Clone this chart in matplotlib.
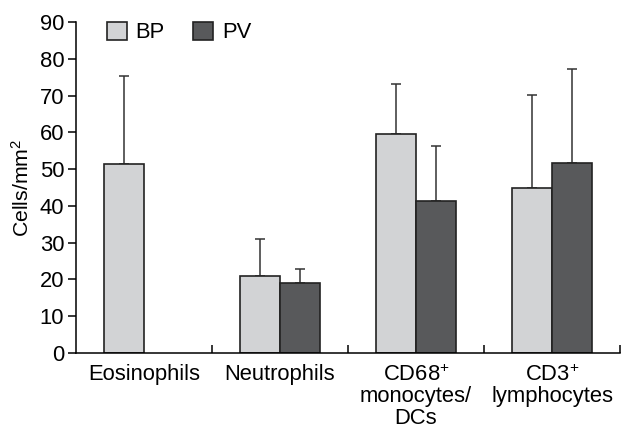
import numpy as np
import matplotlib
matplotlib.use('Agg')
import matplotlib.pyplot as plt
from matplotlib.ticker import MultipleLocator, FixedLocator

plt.rcParams['font.family'] = ['Liberation Sans', 'DejaVu Sans']
plt.rcParams['mathtext.fontset'] = 'custom'
plt.rcParams['mathtext.rm'] = 'Liberation Sans'
plt.rcParams['mathtext.it'] = 'Liberation Sans'
plt.rcParams['mathtext.bf'] = 'Liberation Sans'

# data
categories = ['Eosinophils', 'Neutrophils', 'CD68$^{+}$\nmonocytes/\nDCs', 'CD3$^{+}$\nlymphocytes']
bp_mean = [51.5, 21.0, 59.5, 44.9]
bp_err = [23.7, 10.0, 13.6, 25.3]
pv_mean = [np.nan, 19.0, 41.3, 51.6]
pv_err = [np.nan, 3.8, 15.0, 25.6]
series = ['BP', 'PV']

bp_color = '#d2d3d5'
pv_color = '#58595b'
edge = '#222222'
fs = 15.8

fig = plt.figure(figsize=(6.21, 4.29), dpi=100)
ax = fig.add_axes([0.1224, 0.1772, 0.8760, 0.7715])

x = np.arange(len(categories))
w = 0.294

ax.bar(x - w/2, bp_mean, w, color=bp_color, edgecolor=edge, linewidth=1.2, label=series[0], zorder=2)
ax.bar(x + w/2, pv_mean, w, color=pv_color, edgecolor=edge, linewidth=1.2, label=series[1], zorder=2)

for xs, m, e in [(x - w/2, bp_mean, bp_err), (x + w/2, pv_mean, pv_err)]:
	m = np.array(m); e = np.array(e)
	ok = ~np.isnan(m)
	ax.errorbar(xs[ok], m[ok], yerr=[np.zeros(ok.sum()), e[ok]], fmt='none',
		ecolor='#333333', elinewidth=1.1, capsize=3.6, capthick=1.1, zorder=1)

ax.set_xlim(-0.5, len(categories) - 0.5)
ax.set_ylim(0, 90)
ax.yaxis.set_major_locator(MultipleLocator(10))

ax.spines['top'].set_visible(False)
ax.spines['right'].set_visible(False)
ax.spines['left'].set_linewidth(1.1)
ax.spines['bottom'].set_linewidth(1.1)

ax.set_xticks(x)
ax.set_xticklabels(categories, fontsize=fs, linespacing=1.05, va='top')
ax.tick_params(axis='x', which='major', length=0, pad=8)
ax.xaxis.set_minor_locator(FixedLocator(np.arange(0.5, len(categories), 1.0)))
ax.tick_params(axis='x', which='minor', direction='in', length=6, width=1.1)
ax.tick_params(axis='y', direction='out', length=6, width=1.1, labelsize=fs, pad=2.5)

ax.set_ylabel('Cells/mm$^2$', fontsize=fs - 0.5)
ax.yaxis.set_label_coords(-0.079, 0.5)

ax.legend(loc='center left', bbox_to_anchor=(0.041, 0.968), ncol=2, frameon=False,
	fontsize=fs, handlelength=0.9, handleheight=0.9, handletextpad=0.4,
	columnspacing=1.3, borderaxespad=0)

plt.savefig('out.png', dpi=100)
